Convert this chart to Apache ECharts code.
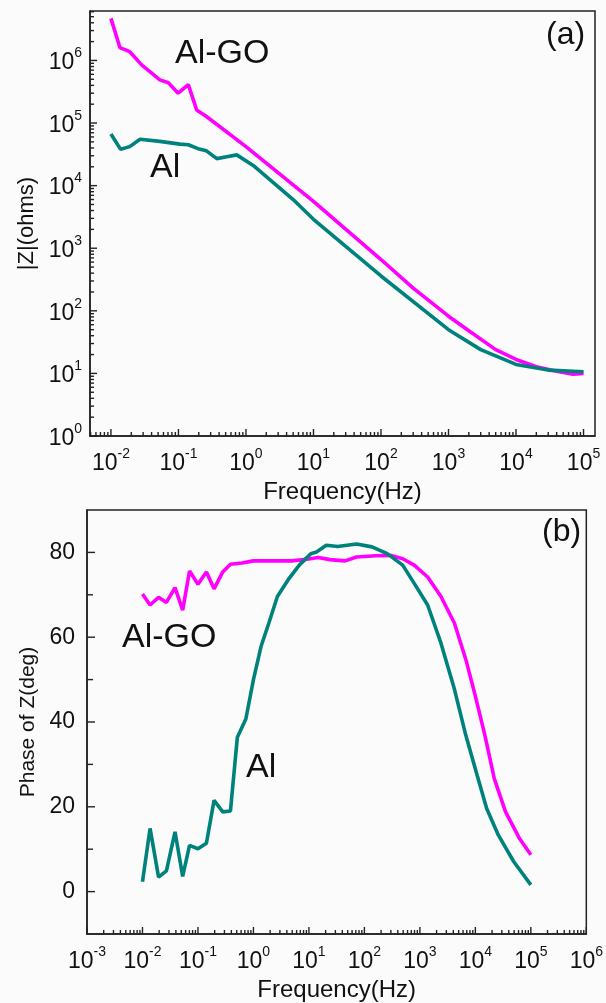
<!DOCTYPE html>
<html>
<head>
<meta charset="utf-8">
<script src="https://cdn.jsdelivr.net/npm/echarts@6/dist/echarts.min.js"></script>
<style>
html,body{margin:0;padding:0;background:#fbfbfb;}
#c{width:606px;height:1003px;}
</style>
</head>
<body>
<div id="c"></div>
<script>
// ---- Panel (a): |Z| vs frequency ----
const freqGO_Z = [0.01, 0.0136, 0.019, 0.0285, 0.053, 0.071, 0.099, 0.14, 0.186, 0.26, 1, 10, 100, 300, 1000, 2000, 5000, 10000, 20000, 40000, 70000, 100000];
const zGO = [4.7e6, 1.6e6, 1.38e6, 8.5e5, 4.9e5, 4.4e5, 3.0e5, 4.1e5, 1.62e5, 1.27e5, 4.2e4, 5600, 660, 230, 82, 48, 24, 16.7, 12.8, 10.8, 9.7, 10.0];
const freqAl_Z = [0.01, 0.0139, 0.019, 0.027, 0.053, 0.105, 0.14, 0.195, 0.26, 0.37, 0.52, 0.73, 1.28, 5, 10, 100, 1000, 3000, 10000, 30000, 100000];
const zAl = [6.7e4, 3.8e4, 4.2e4, 5.5e4, 5.1e4, 4.6e4, 4.5e4, 3.9e4, 3.6e4, 2.7e4, 2.9e4, 3.1e4, 2.1e4, 6000, 2900, 360, 50, 24, 13.9, 11.3, 10.6];

// ---- Panel (b): phase vs frequency ----
const freqGO_P = [0.01, 0.0137, 0.0195, 0.027, 0.0386, 0.053, 0.0705, 0.1, 0.142, 0.195, 0.28, 0.385, 0.62, 1, 4.9, 9.2, 14.8, 24, 45, 72, 162, 302, 490, 790, 1380, 2400, 4200, 6750, 10000, 14900, 22000, 35000, 62000, 100000];
const phaseGO = [70.2, 67.6, 69.4, 68.2, 71.7, 66.4, 75.6, 72.5, 75.4, 71.4, 75.4, 77.2, 77.5, 78.0, 78.0, 78.4, 78.8, 78.3, 78.0, 78.9, 79.2, 79.3, 78.5, 77.0, 74.2, 69.6, 63.3, 54.7, 46.1, 36.8, 26.6, 18.8, 12.6, 8.7];
const freqAl_P = [0.01, 0.0137, 0.0195, 0.027, 0.0386, 0.053, 0.0705, 0.1, 0.142, 0.195, 0.28, 0.385, 0.513, 0.73, 1, 1.37, 1.89, 2.7, 4.2, 6.7, 10.8, 13.7, 20.6, 33, 72, 137, 258, 490, 790, 1380, 2400, 4200, 6750, 10800, 16000, 26000, 49000, 100000];
const phaseAl = [2.3, 14.9, 3.4, 4.9, 14.1, 3.6, 10.9, 10.1, 11.4, 21.5, 18.8, 19.0, 36.4, 40.7, 50.0, 57.8, 63.3, 69.6, 73.5, 77.0, 79.7, 80.1, 81.7, 81.4, 82.0, 81.3, 79.7, 77.0, 72.7, 67.6, 58.6, 47.7, 36.8, 27.4, 19.6, 13.3, 7.1, 1.6];

// ---- Tick labels ----
const topXExps = [-2, -1, 0, 1, 2, 3, 4, 5];
const topYExps = [0, 1, 2, 3, 4, 5, 6];
const botXExps = [-3, -2, -1, 0, 1, 2, 3, 4, 5, 6];
const phaseTicks = [0, 20, 40, 60, 80];
const phaseMinor = [10, 30, 50, 70];

const FONT = "'Liberation Sans', Arial, sans-serif";
const AXC = '#222';
const pow = e => Math.pow(10, e);
function minorLog(eFrom, eTo, minV, maxV) {
  const out = [];
  for (let e = eFrom; e <= eTo; e++) for (let k = 2; k <= 9; k++) {
    const v = k * pow(e);
    if (v > minV && v < maxV) out.push(v);
  }
  return out;
}
const supRich = {
  b: {fontSize: 23, fontFamily: FONT, color: '#111', lineHeight: 28, verticalAlign: 'bottom'},
  s: {fontSize: 14, fontFamily: FONT, color: '#111', lineHeight: 28, verticalAlign: 'top'}
};
const supFmt = v => '{b|10}{s|' + Math.round(Math.log10(v)) + '}';

const topXMin = pow(-2.31), topXMax = pow(5.17);
const topYMin = 1, topYMax = pow(6.79);
const botXMin = pow(-3), botXMax = pow(6);
const botYMin = -10, botYMax = 90;

function axisBase(base) {
  return Object.assign({
    axisLine: {show: true, onZero: false, lineStyle: {color: AXC, width: 1.5}},
    splitLine: {show: false},
    axisTick: {show: false},
  }, base);
}

// inward tick marks, positioned through the axes' own scales
function tickSeries(xi, yi, pts, horiz) {
  return {
    type: 'custom', xAxisIndex: xi, yAxisIndex: yi, silent: true, z: 5,
    encode: {x: 0, y: 1},
    data: pts,
    renderItem: (params, api) => {
      const p = api.coord([api.value(0), api.value(1)]);
      const len = api.value(2);
      return {type: 'line',
        shape: horiz ? {x1: p[0], y1: p[1], x2: p[0] + len, y2: p[1]} : {x1: p[0], y1: p[1], x2: p[0], y2: p[1] - len},
        style: {stroke: AXC, lineWidth: 1.4}};
    }
  };
}
const MAJ = 7, MIN = 4;
const topXTicks = topXExps.map(e => [pow(e), topYMin, MAJ]).concat(minorLog(-3, 5, topXMin, topXMax).map(v => [v, topYMin, MIN]));
const topYTicks = topYExps.map(e => [topXMin, pow(e), MAJ]).concat(minorLog(0, 6, topYMin, topYMax).map(v => [topXMin, v, MIN]));
const botXTicks = botXExps.map(e => [pow(e), botYMin, MAJ]).concat(minorLog(-3, 5, botXMin, botXMax).map(v => [v, botYMin, MIN]));
const botYTicks = phaseTicks.map(v => [botXMin, v, 8]).concat(phaseMinor.map(v => [botXMin, v, 6]));

const nameStyle = fs => ({fontSize: fs, fontFamily: FONT, color: '#111'});

const option = {
  backgroundColor: '#fbfbfb',
  animation: false,
  grid: [
    {left: 90, top: 11, width: 505, height: 425, show: true, borderColor: AXC, borderWidth: 1.5, backgroundColor: 'transparent'},
    {left: 87, top: 510, width: 506, height: 425, show: true, borderColor: AXC, borderWidth: 1.5, backgroundColor: 'transparent'}
  ],
  xAxis: [
    axisBase({type: 'log', gridIndex: 0, position: 'bottom', min: topXMin, max: topXMax,
      axisLabel: {customValues: topXExps.map(pow), formatter: supFmt, rich: supRich, margin: 11},
      name: 'Frequency(Hz)', nameLocation: 'middle', nameGap: 44, nameTextStyle: nameStyle(24)}),
    axisBase({type: 'log', gridIndex: 1, position: 'bottom', min: botXMin, max: botXMax,
      axisLabel: {customValues: botXExps.map(pow), formatter: supFmt, rich: supRich, margin: 11},
      name: 'Frequency(Hz)', nameLocation: 'middle', nameGap: 44, nameTextStyle: nameStyle(24)})
  ],
  yAxis: [
    axisBase({type: 'log', gridIndex: 0, position: 'left', min: topYMin, max: topYMax,
      axisLabel: {customValues: topYExps.map(pow), formatter: supFmt, rich: supRich, margin: 8},
      name: '|Z|(ohms)', nameLocation: 'middle', nameGap: 50, nameRotate: 90, nameTextStyle: nameStyle(22)}),
    axisBase({type: 'value', gridIndex: 1, position: 'left', min: botYMin, max: botYMax,
      axisLabel: {customValues: phaseTicks, fontSize: 23, fontFamily: FONT, color: '#111', margin: 12},
      name: 'Phase of Z(deg)', nameLocation: 'middle', nameGap: 46, nameRotate: 90, nameTextStyle: nameStyle(21)})
  ],
  series: [
    {type: 'line', name: 'Al-GO', xAxisIndex: 0, yAxisIndex: 0, showSymbol: false, symbol: 'none',
      lineStyle: {color: '#ff00ff', width: 3.6}, data: freqGO_Z.map((f, i) => [f, zGO[i]])},
    {type: 'line', name: 'Al', xAxisIndex: 0, yAxisIndex: 0, showSymbol: false, symbol: 'none',
      lineStyle: {color: '#00827c', width: 3.6}, data: freqAl_Z.map((f, i) => [f, zAl[i]])},
    {type: 'line', name: 'Al-GO', xAxisIndex: 1, yAxisIndex: 1, showSymbol: false, symbol: 'none',
      lineStyle: {color: '#ff00ff', width: 3.6}, data: freqGO_P.map((f, i) => [f, phaseGO[i]])},
    {type: 'line', name: 'Al', xAxisIndex: 1, yAxisIndex: 1, showSymbol: false, symbol: 'none',
      lineStyle: {color: '#00827c', width: 3.6}, data: freqAl_P.map((f, i) => [f, phaseAl[i]])},
    tickSeries(0, 0, topXTicks, false),
    tickSeries(0, 0, topYTicks, true),
    tickSeries(1, 1, botXTicks, false),
    tickSeries(1, 1, botYTicks, true)
  ],
  graphic: [
    {type: 'text', left: 175, top: 37, style: {text: 'Al-GO', fontSize: 34, fontFamily: FONT, fill: '#111'}},
    {type: 'text', left: 150, top: 151, style: {text: 'Al', fontSize: 34, fontFamily: FONT, fill: '#111'}},
    {type: 'text', left: 546, top: 19, style: {text: '(a)', fontSize: 32, fontFamily: FONT, fill: '#111'}},
    {type: 'text', left: 122, top: 621, style: {text: 'Al-GO', fontSize: 34, fontFamily: FONT, fill: '#111'}},
    {type: 'text', left: 246, top: 751, style: {text: 'Al', fontSize: 34, fontFamily: FONT, fill: '#111'}},
    {type: 'text', left: 542, top: 516, style: {text: '(b)', fontSize: 32, fontFamily: FONT, fill: '#111'}}
  ]
};
const chart = echarts.init(document.getElementById('c'), null, {renderer: 'canvas'});
chart.setOption(option);
</script>
</body>
</html>
